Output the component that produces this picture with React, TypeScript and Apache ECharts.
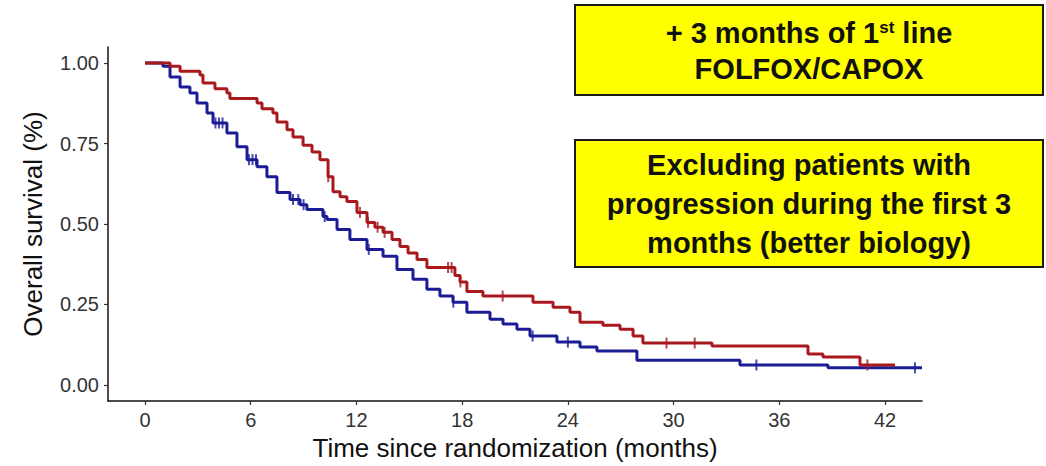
import React, { useEffect, useRef } from "react";
import * as echarts from "echarts";

// Kaplan–Meier estimates: event times (months) and survival after each drop
const redTimes = [0, 1.42, 1.99, 3.12, 3.29, 3.97, 4.65, 4.82, 6.36, 6.64, 7.26, 7.49, 8.06, 8.4, 8.97, 9.48, 9.93, 10.39, 10.67, 11.07, 11.46, 12.03, 12.6, 13.05, 13.51, 14.02, 14.47, 14.93, 15.44, 16.0, 17.59, 17.88, 18.27, 19.18, 22.02, 23.16, 24.12, 24.69, 25.99, 26.96, 27.7, 28.26, 32.18, 37.63, 38.48, 40.58];
const redSurvival = [1, 0.99, 0.975, 0.963, 0.938, 0.92, 0.907, 0.89, 0.876, 0.858, 0.845, 0.817, 0.793, 0.77, 0.745, 0.724, 0.7, 0.647, 0.6, 0.585, 0.57, 0.536, 0.505, 0.49, 0.474, 0.452, 0.43, 0.41, 0.39, 0.365, 0.34, 0.32, 0.29, 0.276, 0.257, 0.241, 0.226, 0.195, 0.185, 0.173, 0.152, 0.13, 0.121, 0.096, 0.087, 0.062];
const redFollowUpEnd = 42.57;
const redCensored = [10.4, 12.2, 12.66, 13.2, 13.6, 17.2, 17.4, 17.9, 20.3, 29.6, 31.2, 41.0];

const blueTimes = [0, 1.02, 1.42, 1.99, 2.55, 2.95, 3.52, 3.86, 4.65, 5.22, 5.79, 6.36, 6.92, 7.49, 8.23, 8.8, 9.19, 10.1, 10.33, 10.9, 11.63, 12.6, 13.51, 14.3, 15.21, 16.0, 16.74, 17.48, 18.27, 19.58, 20.32, 21.11, 21.85, 23.38, 24.69, 25.65, 27.92, 33.77, 38.76];
const blueSurvival = [1, 0.99, 0.957, 0.926, 0.907, 0.876, 0.845, 0.814, 0.783, 0.74, 0.7, 0.678, 0.647, 0.598, 0.576, 0.56, 0.545, 0.523, 0.514, 0.483, 0.452, 0.421, 0.4, 0.359, 0.328, 0.297, 0.276, 0.257, 0.226, 0.204, 0.189, 0.173, 0.152, 0.133, 0.118, 0.105, 0.077, 0.062, 0.053];
const blueFollowUpEnd = 44.1;
const blueCensored = [4.0, 4.2, 4.4, 5.9, 6.1, 6.3, 8.4, 8.7, 9.0, 10.2, 12.7, 17.5, 22.0, 24.0, 34.7, 43.7];

const xTicks = [0, 6, 12, 18, 24, 30, 36, 42];
const yTicks = [0, 0.25, 0.5, 0.75, 1];

const RED = "#A8191E";
const BLUE = "#1C1C96";
const FONT = "'Liberation Sans', Arial, sans-serif";

function stepData(times: number[], surv: number[], end: number) {
  const pts = times.map((t, i) => [t, surv[i]]);
  pts.push([end, surv[surv.length - 1]]);
  return pts;
}

function survivalAt(times: number[], surv: number[], t: number) {
  let s = surv[0];
  for (let i = 0; i < times.length; i++) {
    if (times[i] <= t) s = surv[i];
  }
  return s;
}

export default function App() {
  const ref = useRef<HTMLDivElement>(null);

  useEffect(() => {
    if (!ref.current) return;
    const chart = echarts.init(ref.current, null, { renderer: "svg" });

    const censorSeries = (times: number[], surv: number[], cens: number[], color: string) => ({
      type: "scatter",
      data: cens.map((t) => [t, survivalAt(times, surv, t)]),
      symbol: "rect",
      symbolSize: [2, 11],
      itemStyle: { color },
      silent: true,
      z: 3,
    });

    chart.setOption({
      animation: false,
      backgroundColor: "#ffffff",
      grid: { left: 108, right: 124, top: 47, bottom: 64, containLabel: false },
      xAxis: {
        type: "value",
        min: -2.1,
        max: 44.1,
        name: "Time since randomization (months)",
        nameLocation: "middle",
        nameGap: 34,
        nameTextStyle: { fontFamily: FONT, fontSize: 26, color: "#111" },
        axisLine: { show: true, onZero: false, lineStyle: { color: "#111", width: 1.5 } },
        axisTick: { show: true, length: 4, customValues: xTicks, lineStyle: { color: "#333", width: 1.2 } },
        axisLabel: { customValues: xTicks, margin: 9, fontFamily: FONT, fontSize: 20, color: "#333" },
        splitLine: { show: false },
      },
      yAxis: {
        type: "value",
        min: -0.05,
        max: 1.05,
        name: "Overall survival (%)",
        nameLocation: "middle",
        nameGap: 62,
        nameTextStyle: { fontFamily: FONT, fontSize: 26, color: "#111" },
        axisLine: { show: true, onZero: false, lineStyle: { color: "#111", width: 1.5 } },
        axisTick: { show: true, length: 4, customValues: yTicks, lineStyle: { color: "#333", width: 1.2 } },
        axisLabel: {
          customValues: yTicks,
          margin: 9,
          fontFamily: FONT,
          fontSize: 20,
          color: "#333",
          formatter: (v: number) => v.toFixed(2),
        },
        splitLine: { show: false },
      },
      series: [
        {
          type: "line",
          step: "end",
          data: stepData(blueTimes, blueSurvival, blueFollowUpEnd),
          showSymbol: false,
          lineStyle: { color: BLUE, width: 3 },
          silent: true,
          z: 2,
        },
        {
          type: "line",
          step: "end",
          data: stepData(redTimes, redSurvival, redFollowUpEnd),
          showSymbol: false,
          lineStyle: { color: RED, width: 3 },
          silent: true,
          z: 2,
        },
        censorSeries(blueTimes, blueSurvival, blueCensored, BLUE),
        censorSeries(redTimes, redSurvival, redCensored, RED),
      ],
      graphic: [
        {
          type: "rect",
          shape: { x: 575, y: 5, width: 468, height: 90 },
          style: { fill: "#FFFF00", stroke: "#1a1a1a", lineWidth: 2 },
        },
        {
          type: "text",
          x: 809,
          y: 51,
          style: {
            text: "{m|+ 3 months of 1}{s|st}{m| line}\n{m|FOLFOX/CAPOX}",
            align: "center",
            verticalAlign: "middle",
            rich: {
              m: { fontFamily: FONT, fontSize: 29, fontWeight: "bold", lineHeight: 36, fill: "#111" },
              s: {
                fontFamily: FONT,
                fontSize: 17,
                fontWeight: "bold",
                lineHeight: 17,
                verticalAlign: "top",
                padding: [4, 0, 0, 0],
                fill: "#111",
              },
            },
          },
        },
        {
          type: "rect",
          shape: { x: 575, y: 140, width: 468, height: 127 },
          style: { fill: "#FFFF00", stroke: "#1a1a1a", lineWidth: 2 },
        },
        {
          type: "text",
          x: 809,
          y: 204,
          style: {
            text: "Excluding patients with\nprogression during the first 3\nmonths (better biology)",
            align: "center",
            verticalAlign: "middle",
            fontFamily: FONT,
            fontSize: 29,
            fontWeight: "bold",
            lineHeight: 39,
            fill: "#111",
          },
        },
      ],
    });

    return () => chart.dispose();
  }, []);

  return (
    <div
      ref={ref}
      style={{ position: "absolute", left: 0, top: 0, width: 1046, height: 466, background: "#fff" }}
    />
  );
}
